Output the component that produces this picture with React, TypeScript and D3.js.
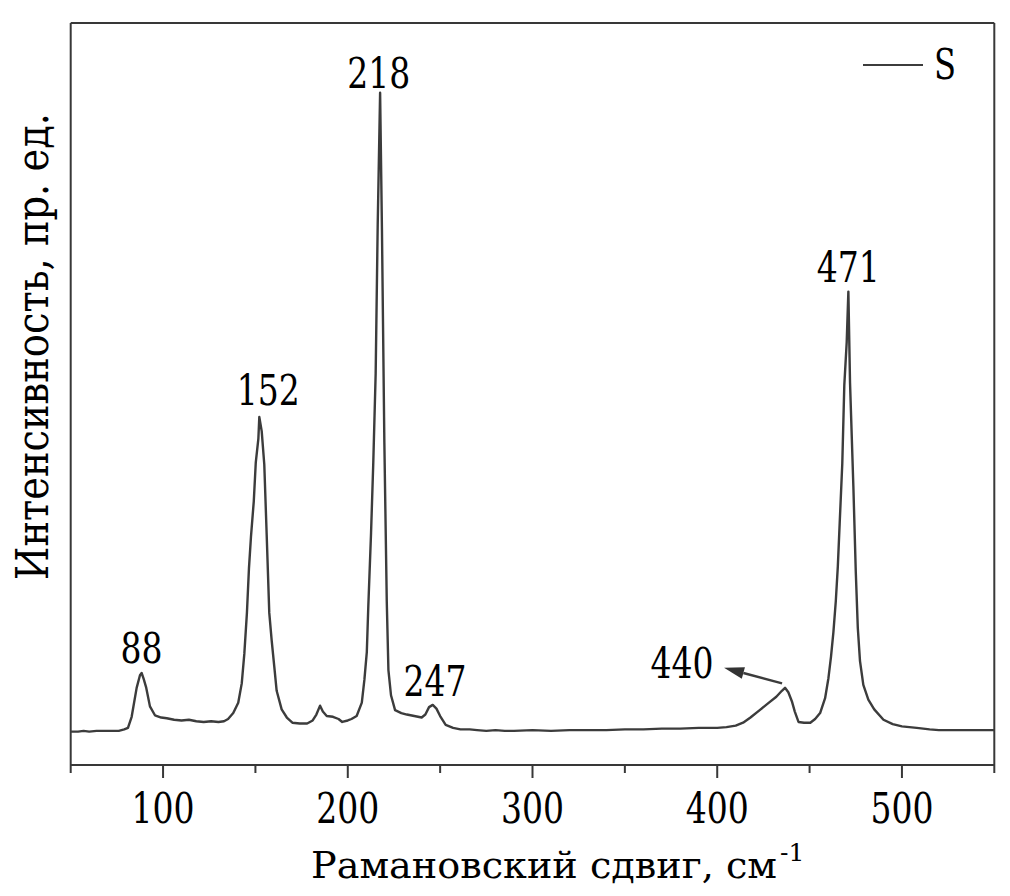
import React from "react";
import * as d3 from "d3";

const wavenumber: number[] = [
  50, 54, 57, 60, 64, 68, 72, 76, 79, 81, 83, 85.7, 87.5, 88.4, 89.5, 90.8, 92.9, 95.6, 99, 102,
  106, 110, 114, 118, 122, 126, 130, 133, 135.2, 138, 140.7, 142.6, 144, 145.4, 146.5, 147.6, 149.1, 150.2, 151.6, 152.1,
  153.4, 154.8, 156.1, 157.5, 158.8, 160.2, 161.5, 164.2, 167, 170, 174, 178, 181, 183, 185, 186.5, 188.6, 192, 195, 197,
  200, 202, 204.8, 207.6, 209.0, 210.3, 211.1, 212.6, 213.8, 215.1, 216.2, 217.5, 218.5, 219.8, 221.1, 222.0, 223.4, 225.6, 229, 232,
  236, 240, 242, 244, 246, 248, 250, 253, 257, 261, 266, 270, 275, 280, 285, 290, 300, 310, 320, 330,
  340, 350, 360, 370, 380, 390, 400, 405, 410, 414, 418, 423, 428, 432, 435, 436.7, 438.5, 440.4, 442, 444,
  447, 450.4, 453, 455.7, 458.4, 460.2, 461.6, 462.9, 464.2, 465.3, 466.3, 467.7, 468.8, 470.1, 471.0, 471.9, 473.7, 475.0, 476.1, 477.3,
  479.1, 481.8, 485, 490, 495, 500, 508, 515, 520, 530, 540, 550,
];

const intensity: number[] = [
  45, 45, 46, 45, 46, 46, 46, 46, 48, 50, 65, 104, 121, 124, 116, 105, 79, 67, 64, 63,
  61, 60, 61, 59, 58, 59, 58, 59, 62, 70, 84, 110, 150, 205, 265, 308, 355, 408, 440, 469,
  450, 405, 310, 205, 168, 133, 100, 75, 64, 57, 56, 56, 60, 68, 80, 72, 66, 65, 62, 58,
  60, 62, 66, 84, 115, 152, 213, 313, 407, 528, 728, 906, 721, 435, 221, 128, 94, 74, 70, 68,
  66, 64, 68, 78, 81, 76, 66, 54, 50, 48, 48, 47, 46, 47, 46, 46, 47, 46, 47, 47,
  47, 48, 48, 49, 49, 50, 50, 51, 53, 57, 64, 74, 84, 92, 100, 104, 98, 86, 72, 58,
  57, 57, 62, 70, 90, 117, 146, 179, 221, 268, 326, 406, 512, 570, 638, 515, 376, 261, 185, 140,
  108, 88, 75, 61, 55, 52, 50, 48, 47, 47, 47, 47,
];

const xTicks: number[] = [100, 200, 300, 400, 500];
const xMinorTicks: number[] = [50, 150, 250, 350, 450, 550];

const peakLabels: string[] = ["88", "152", "218", "247", "440", "471"];
const peakLabelX: number[] = [88.3, 157, 216.8, 247.2, 381, 471];
const peakLabelY: number[] = [137, 485, 912, 93, 117, 651];

const arrowFrom: [number, number] = [435.1, 110];
const arrowTo: [number, number] = [403.7, 131];

const xTitle = "Рамановский сдвиг, см";
const xTitleSup = "-1";
const yTitle = "Интенсивность, пр. ед.";
const seriesName = "S";

export default function App() {
  const W = 1010;
  const H = 896;
  const left = 70.7;
  const right = 994.3;
  const top = 23;
  const bottom = 765;

  const x = d3.scaleLinear().domain([50, 550]).range([left, right]);
  const y = d3.scaleLinear().domain([0, 1000]).range([bottom, top]);

  const pts: [number, number][] = wavenumber.map((w, i) => [w, intensity[i]]);
  const line = d3
    .line<[number, number]>()
    .x((d) => x(d[0]))
    .y((d) => y(d[1]));

  const axisColor = "#383838";
  const curveColor = "#3c3c3c";
  const fontStyle = { fontFamily: '"DejaVu Serif", serif' };
  const numSize = 42;
  // Times-like digit advance (0.5 em) to emulate the narrower serif face
  const numLen = (s: string) => numSize * 0.5 * s.length;

  const ax1 = x(arrowFrom[0]);
  const ay1 = y(arrowFrom[1]);
  const ax2 = x(arrowTo[0]);
  const ay2 = y(arrowTo[1]);
  const ang = Math.atan2(ay2 - ay1, ax2 - ax1);
  const headLen = 20;
  const headW = 6;
  const bx = ax2 - headLen * Math.cos(ang);
  const by = ay2 - headLen * Math.sin(ang);
  const px = -Math.sin(ang);
  const py = Math.cos(ang);

  return (
    <svg
      width={W}
      height={H}
      style={{ position: "absolute", left: 0, top: 0, background: "#fff" }}
    >
      <rect x={0} y={0} width={W} height={H} fill="#fff" />
      <g style={fontStyle}>
        <line x1={left} x2={right} y1={top} y2={top} stroke={axisColor} strokeWidth={2} />
        <line x1={right} x2={right} y1={top} y2={bottom} stroke={axisColor} strokeWidth={2} />
        <line x1={left} x2={left} y1={top} y2={bottom} stroke={axisColor} strokeWidth={2} />
        <line x1={left} x2={right} y1={bottom} y2={bottom} stroke={axisColor} strokeWidth={2} />
        {xTicks.map((t) => (
          <g key={"M" + t}>
            <line x1={x(t)} x2={x(t)} y1={bottom} y2={bottom + 13} stroke={axisColor} strokeWidth={2} />
            <text
              x={x(t)}
              y={823}
              textAnchor="middle"
              fontSize={numSize}
              textLength={numLen(String(t))}
              lengthAdjust="spacingAndGlyphs"
              fill="#000"
              style={fontStyle}
            >
              {t}
            </text>
          </g>
        ))}
        {xMinorTicks.map((t) => (
          <line key={"m" + t} x1={x(t)} x2={x(t)} y1={bottom} y2={bottom + 8} stroke={axisColor} strokeWidth={2} />
        ))}
        <text
          x={311}
          y={878}
          textAnchor="start"
          fontSize={38}
          textLength={466}
          lengthAdjust="spacingAndGlyphs"
          fill="#000"
          style={fontStyle}
        >
          {xTitle}
        </text>
        <text x={780} y={861} fontSize={25} fill="#000" style={fontStyle}>
          {xTitleSup}
        </text>
        <text
          transform={`translate(48,346.5) rotate(-90)`}
          textAnchor="middle"
          fontSize={44}
          textLength={467}
          lengthAdjust="spacingAndGlyphs"
          fill="#000"
          style={fontStyle}
        >
          {yTitle}
        </text>
        <path d={line(pts) || ""} fill="none" stroke={curveColor} strokeWidth={2.4} strokeLinejoin="round" />
        {peakLabels.map((l, i) => (
          <text
            key={l}
            x={x(peakLabelX[i])}
            y={y(peakLabelY[i])}
            textAnchor="middle"
            fontSize={numSize}
            textLength={numLen(l)}
            lengthAdjust="spacingAndGlyphs"
            fill="#000"
            style={fontStyle}
          >
            {l}
          </text>
        ))}
        <line x1={ax1} y1={ay1} x2={bx} y2={by} stroke={curveColor} strokeWidth={2.4} />
        <polygon
          points={`${ax2},${ay2} ${bx + px * headW},${by + py * headW} ${bx - px * headW},${by - py * headW}`}
          fill="#333"
        />
        <line x1={863} x2={923} y1={65} y2={65} stroke={curveColor} strokeWidth={2} />
        <text
          x={934}
          y={79}
          fontSize={numSize}
          textLength={22}
          lengthAdjust="spacingAndGlyphs"
          fill="#000"
          style={fontStyle}
        >
          {seriesName}
        </text>
      </g>
    </svg>
  );
}
